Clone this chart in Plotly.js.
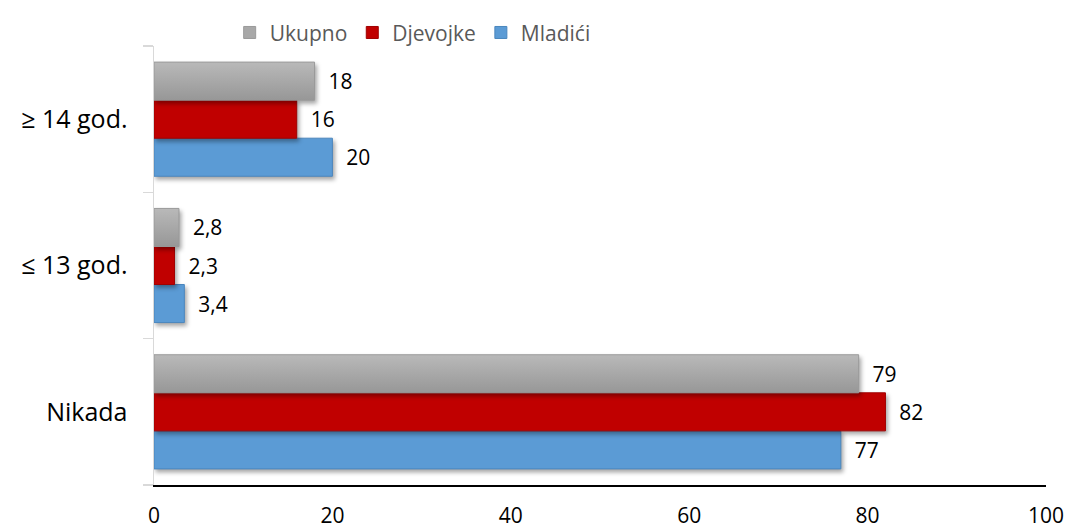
<!DOCTYPE html>
<html>
<head>
<meta charset="utf-8">
<script src="https://cdn.plot.ly/plotly-3.0.1.min.js"></script>
<style>
html,body{margin:0;padding:0;background:#fff;}
#chart{width:1067px;height:529px;}
g.trace.bars path{filter:drop-shadow(2px 3px 2px rgba(0,0,0,0.35));}
</style>
</head>
<body>
<div id="chart"></div>
<script>
const categories = ['Nikada', '≤ 13 god.', '≥ 14 god.'];
const seriesNames = ['Ukupno', 'Djevojke', 'Mladići'];
const ukupno = [79, 2.8, 18];
const djevojke = [82, 2.3, 16];
const mladici = [77, 3.4, 20];
const xTicks = [0, 20, 40, 60, 80, 100];

const colors = {Ukupno: '#a8a8a8', Djevojke: '#c00000', 'Mladići': '#5b9bd5'};
const lines = {Ukupno: '#9a9a9a', Djevojke: '#a00000', 'Mladići': '#4a86bd'};
const FONT = '"Open Sans", Lato, sans-serif';

function mk(name, vals) {
  return {
    type: 'bar', orientation: 'h', name: name,
    y: categories, x: vals,
    marker: {color: colors[name], line: {color: lines[name], width: 1}},
    texttemplate: '  %{x}', textposition: 'outside',
    cliponaxis: false,
    textfont: {family: FONT, size: 21, color: '#000'},
    hoverinfo: 'x+name'
  };
}
// order bottom -> top inside each group
const data = [mk('Mladići', mladici), mk('Djevojke', djevojke), mk('Ukupno', ukupno)];

const layout = {
  width: 1067, height: 529,
  margin: {l: 154, r: 21, t: 42, b: 44},
  paper_bgcolor: '#fff', plot_bgcolor: '#fff',
  separators: ',.',
  barmode: 'group', bargap: 0.22, bargroupgap: 0,
  showlegend: true,
  legend: {orientation: 'h', traceorder: 'reversed', x: 0.29, xanchor: 'center', y: 1.03, yanchor: 'middle',
           font: {family: FONT, size: 21, color: '#595959'}, itemwidth: 30, tracegroupgap: 0},
  font: {family: FONT},
  xaxis: {range: [0, 100], tickvals: xTicks, ticktext: xTicks.map(String), showgrid: false, zeroline: false,
          showline: true, linecolor: '#000', linewidth: 1.5, ticks: '', ticklabelstandoff: 11,
          tickfont: {size: 21, color: '#000'}, fixedrange: true},
  yaxis: {type: 'category', categoryorder: 'array', categoryarray: categories,
          showgrid: false, zeroline: false, showline: true, linecolor: '#d9d9d9', linewidth: 1.5,
          ticks: 'outside', tickson: 'boundaries', ticklen: 10, tickcolor: '#d9d9d9', tickwidth: 1.5,
          ticklabelstandoff: 20, tickfont: {size: 25, color: '#000'}, fixedrange: true}
};

Plotly.newPlot('chart', data, layout, {displayModeBar: false, staticPlot: true}).then(function (gd) {
  // vertical gradient for the grey bars, like the original
  const svg = gd.querySelector('svg.main-svg');
  const ns = 'http://www.w3.org/2000/svg';
  let defs = svg.querySelector('defs');
  if (!defs) { defs = document.createElementNS(ns, 'defs'); svg.insertBefore(defs, svg.firstChild); }
  const grad = document.createElementNS(ns, 'linearGradient');
  grad.setAttribute('id', 'greyGrad');
  grad.setAttribute('x1', '0'); grad.setAttribute('y1', '0');
  grad.setAttribute('x2', '0'); grad.setAttribute('y2', '1');
  [['0', '#b9b9b9'], ['1', '#979797']].forEach(function (s) {
    const st = document.createElementNS(ns, 'stop');
    st.setAttribute('offset', s[0]); st.setAttribute('stop-color', s[1]);
    grad.appendChild(st);
  });
  defs.appendChild(grad);
  const traces = gd.querySelectorAll('g.trace.bars');
  traces.forEach(function (t, i) {
    if (gd.data[i] && gd.data[i].name === 'Ukupno') {
      t.querySelectorAll('path').forEach(function (p) { p.style.fill = 'url(#greyGrad)'; });
    }
  });
});
</script>
</body>
</html>
